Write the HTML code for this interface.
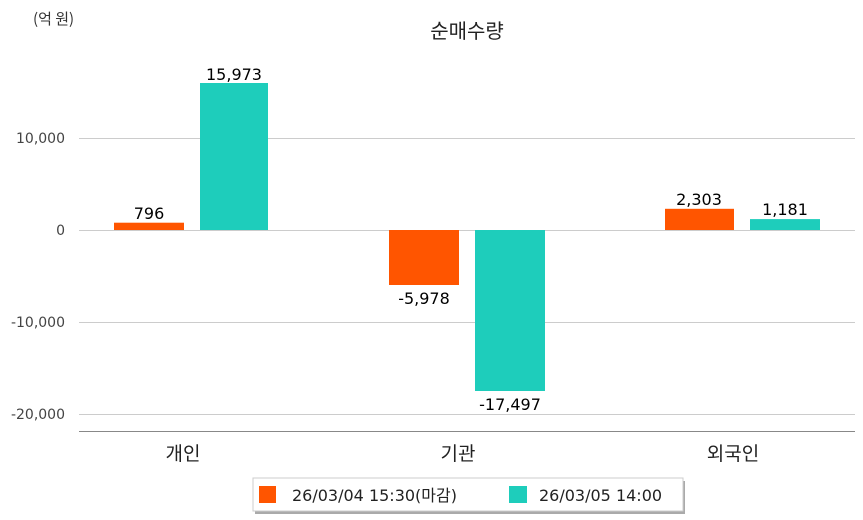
<!DOCTYPE html>
<html><head><meta charset="utf-8"><style>
html,body{margin:0;padding:0;background:#fff;}
svg{display:block;font-family:"DejaVu Sans","Noto Sans CJK KR",sans-serif;}
</style></head><body>
<svg width="863" height="520" viewBox="0 0 863 520">
<text x="33" y="24" font-size="15" fill="#333" font-family="Noto Sans CJK KR, sans-serif">(억 원)</text>
<text x="467" y="38" font-size="20" fill="#222" text-anchor="middle" font-family="Noto Sans CJK KR, sans-serif">순매수량</text>
<g stroke="#ccc" stroke-width="1">
<line x1="79" y1="138.5" x2="855" y2="138.5"/>
<line x1="79" y1="230.5" x2="855" y2="230.5"/>
<line x1="79" y1="322.5" x2="855" y2="322.5"/>
<line x1="79" y1="414.5" x2="855" y2="414.5"/>
</g>
<line x1="79" y1="431.5" x2="855" y2="431.5" stroke="#888" stroke-width="1"/>
<g font-size="14" fill="#444" text-anchor="end">
<text x="65" y="143">10,000</text>
<text x="65" y="235">0</text>
<text x="65" y="327">-10,000</text>
<text x="65" y="419">-20,000</text>
</g>
<rect x="114" y="222.7" width="70" height="7.3" fill="#ff5500"/>
<rect x="200" y="83" width="68" height="147" fill="#1ecdbb"/>
<rect x="389" y="230" width="70" height="55" fill="#ff5500"/>
<rect x="475" y="230" width="70" height="161" fill="#1ecdbb"/>
<rect x="665" y="208.8" width="69" height="21.2" fill="#ff5500"/>
<rect x="750" y="219.1" width="70" height="10.9" fill="#1ecdbb"/>
<g font-size="16" fill="#000" text-anchor="middle">
<text x="149" y="219">796</text>
<text x="234" y="80">15,973</text>
<text x="424" y="304">-5,978</text>
<text x="510" y="410">-17,497</text>
<text x="699" y="205">2,303</text>
<text x="785" y="215">1,181</text>
</g>
<g font-size="19" fill="#222" text-anchor="middle" font-family="Noto Sans CJK KR, sans-serif">
<text x="183" y="460">개인</text>
<text x="458" y="460">기관</text>
<text x="733" y="460">외국인</text>
</g>
<rect x="255" y="481" width="430" height="33" fill="#aaa"/>
<rect x="253" y="478" width="430" height="33" fill="#fff" stroke="#ccc" stroke-width="1"/>
<rect x="259" y="486" width="17" height="17" fill="#ff5500"/>
<text x="292" y="501" font-size="16" fill="#222">26/03/04 15:30(마감)</text>
<rect x="509" y="486" width="18" height="17" fill="#1ecdbb"/>
<text x="539" y="501" font-size="16" fill="#222">26/03/05 14:00</text>
</svg>
</body></html>
